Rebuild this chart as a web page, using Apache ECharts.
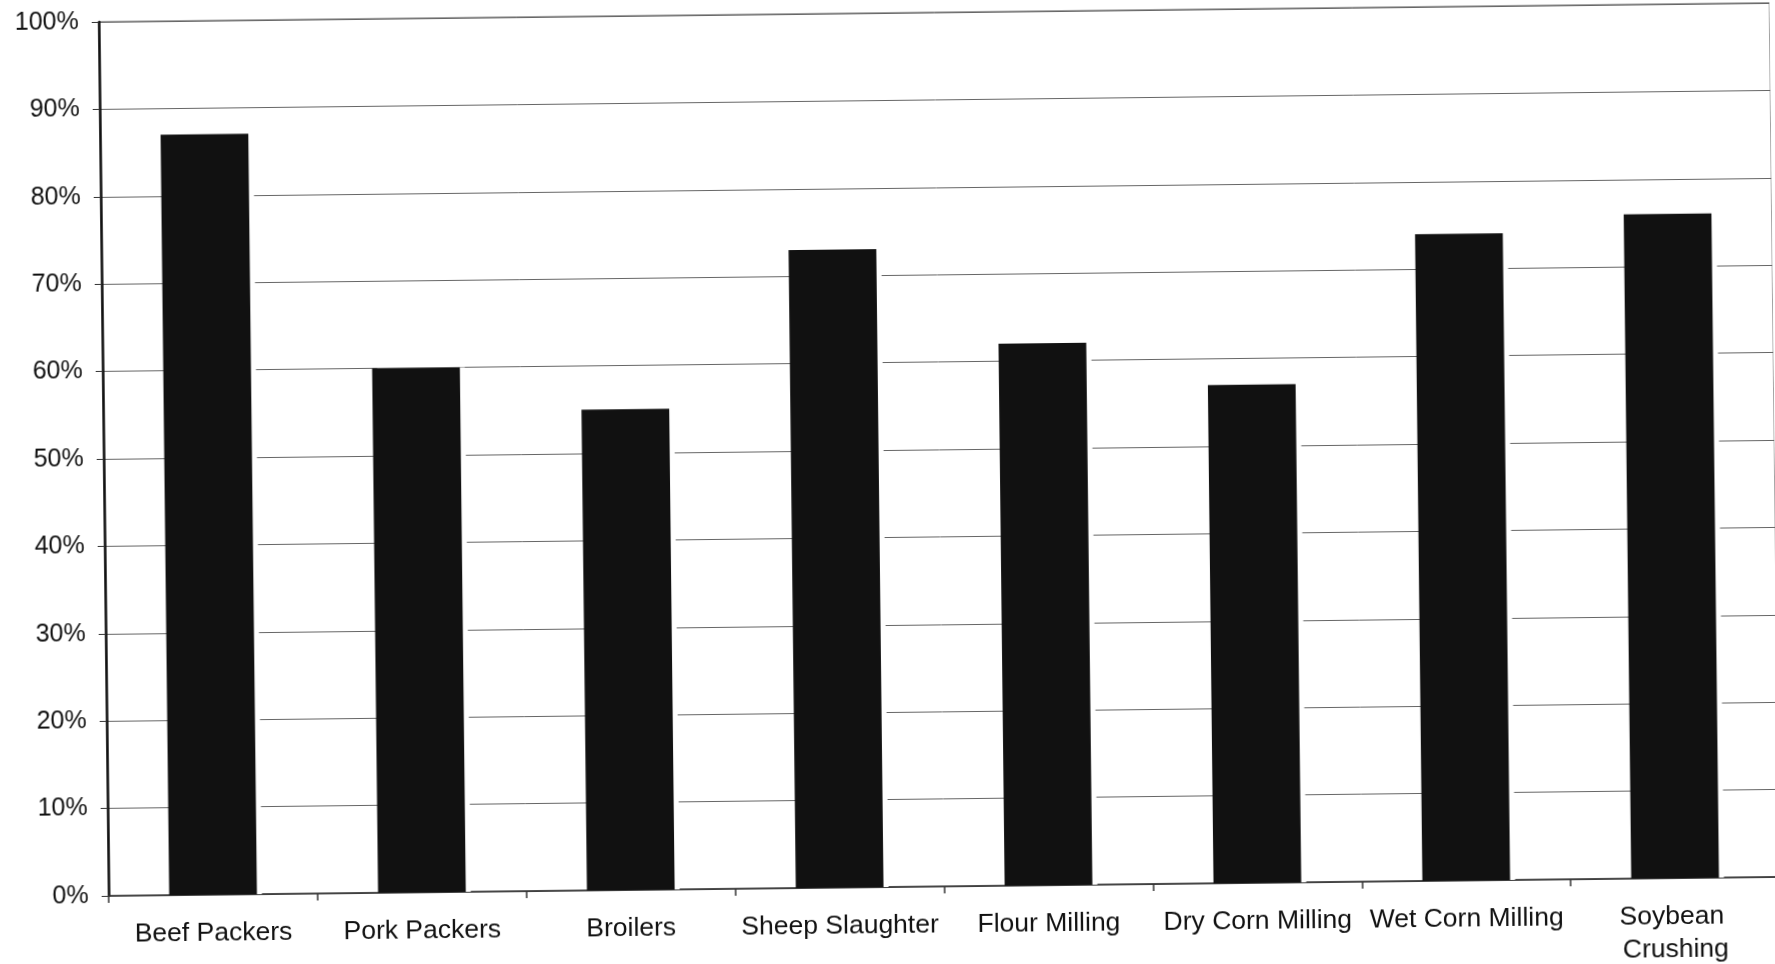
<!DOCTYPE html>
<html>
<head>
<meta charset="utf-8">
<script src="https://cdn.jsdelivr.net/npm/echarts@6/dist/echarts.min.js"></script>
<style>
  html, body { margin: 0; padding: 0; background: #fff; overflow: hidden; width: 1775px; height: 964px; }
  #chart { width: 1775px; height: 1010px; transform: rotate(-0.65deg); transform-origin: 887.5px 482px; }
</style>
</head>
<body>
<div id="chart"></div>
<script>
const categories = ['Beef Packers', 'Pork Packers', 'Broilers', 'Sheep Slaughter', 'Flour Milling', 'Dry Corn Milling', 'Wet Corn Milling', 'Soybean Crushing'];
const shares = [87, 60, 55, 73, 62, 57, 74, 76];
const yTicks = { min: 0, max: 100, interval: 10 };

const chart = echarts.init(document.getElementById('chart'));
chart.setOption({
  animation: false,
  backgroundColor: '#fff',
  textStyle: { fontFamily: 'Liberation Sans, Arial, sans-serif' },
  grid: {
    left: 104, right: 0, top: 13, bottom: 123,
    containLabel: false, outerBoundsMode: 'none',
    show: true, borderColor: '#444', borderWidth: 1
  },
  xAxis: {
    type: 'category',
    data: categories,
    boundaryGap: true,
    axisLine: { lineStyle: { color: '#333', width: 1.5 } },
    axisTick: { show: true, length: 7, lineStyle: { color: '#333', width: 1.5 } },
    axisLabel: {
      interval: 0, color: '#111', fontSize: 26.5, margin: 22,
      width: 206, overflow: 'break', lineHeight: 33,
      fontFamily: 'Liberation Sans, Arial, sans-serif'
    }
  },
  yAxis: {
    type: 'value',
    min: yTicks.min, max: yTicks.max, interval: yTicks.interval,
    axisLine: { show: true, lineStyle: { color: '#111', width: 2.5 } },
    axisTick: { show: true, length: 7, lineStyle: { color: '#333', width: 1 } },
    axisLabel: { formatter: '{value}%', color: '#111', fontSize: 25, margin: 20, fontFamily: 'Liberation Sans, Arial, sans-serif' },
    splitLine: { show: true, lineStyle: { color: '#666', width: 1 } }
  },
  series: [{
    type: 'bar',
    data: shares,
    barWidth: '42%',
    itemStyle: {
      color: '#111',
      borderWidth: 0,
      shadowColor: '#fff', shadowBlur: 0, shadowOffsetX: 5, shadowOffsetY: 0
    }
  }]
});
</script>
</body>
</html>
